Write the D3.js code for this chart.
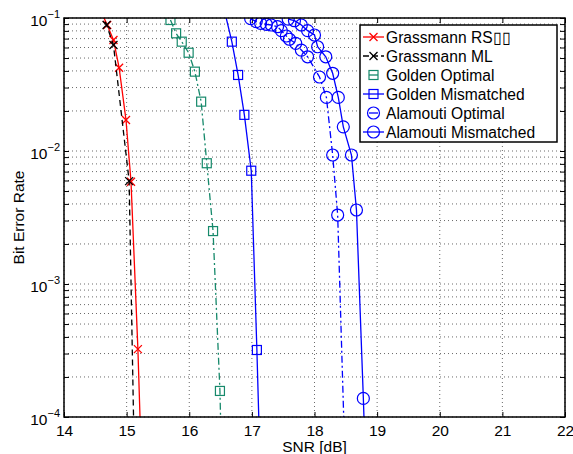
<!DOCTYPE html>
<html lang="en">
<head>
<meta charset="UTF-8">
<title>BER vs SNR</title>
<style>
  body { margin: 0; background: #fff; }
  text { font-family: "Liberation Sans", Arial, sans-serif; }
</style>
</head>
<body>
<svg width="573" height="454"></svg>
<script src="https://d3js.org/d3.v7.min.js"></script>
<script>
// data: [SNR dB, BER]
var grassRS = [[14.6, 0.11], [14.69, 0.0886], [14.79, 0.0684], [14.88, 0.0423], [14.99, 0.0171], [15.07, 0.00587], [15.18, 3.24e-4], [15.28, 1e-5]];
var grassML = [[14.6, 0.11], [14.68, 0.0886], [14.79, 0.0626], [15.04, 0.00594], [15.15, 1e-5]];
var goldenOpt = [[15.70, 0.0966], [15.79, 0.0767], [15.88, 0.0664], [15.99, 0.0548], [16.09, 0.0395], [16.19, 0.0235], [16.28, 0.00809], [16.38, 0.0025], [16.49, 1.57e-4], [16.55, 1e-5]];
var goldenMis = [[16.55, 0.12], [16.68, 0.0664], [16.78, 0.0373], [16.88, 0.0187], [16.99, 0.00711], [17.08, 3.19e-4], [17.17, 1e-5]];
var alamOpt = [[16.98, 0.099], [17.07, 0.094], [17.14, 0.0912], [17.23, 0.0897], [17.31, 0.0886], [17.41, 0.086], [17.47, 0.0803], [17.55, 0.0732], [17.60, 0.0692], [17.70, 0.0645], [17.79, 0.0574], [17.89, 0.0511], [18.08, 0.036], [18.19, 0.0253], [18.29, 0.00933], [18.37, 0.0033], [18.53, 1e-5]];
var alamMis = [[17.58, 0.098], [17.68, 0.0954], [17.79, 0.0886], [17.89, 0.0803], [18.00, 0.0745], [18.05, 0.0608], [18.18, 0.0511], [18.29, 0.0384], [18.38, 0.0253], [18.46, 0.0152], [18.59, 0.00933], [18.67, 0.0036], [18.78, 1.38e-4], [18.86, 1e-5]];

var xTicks = [14, 15, 16, 17, 18, 19, 20, 21, 22];
var yTicks = [1e-4, 1e-3, 1e-2, 1e-1];
var names = ["Grassmann RS\u25af\u25af", "Grassmann ML", "Golden Optimal", "Golden Mismatched", "Alamouti Optimal", "Alamouti Mismatched"];

var green = "#16896b";
var series = [
  {data: grassRS, color: "red", dash: null, marker: "x"},
  {data: grassML, color: "black", dash: "6,4", marker: "x"},
  {data: goldenOpt, color: green, dash: "7,3,2,3", marker: "square"},
  {data: goldenMis, color: "blue", dash: null, marker: "square"},
  {data: alamOpt, color: "blue", dash: "7,3,2,3", marker: "circle"},
  {data: alamMis, color: "blue", dash: null, marker: "circle"}
];

var svg = d3.select("svg"),
    margin = {top: 18, right: 8, bottom: 37, left: 64},
    width = +svg.attr("width") - margin.left - margin.right,
    height = +svg.attr("height") - margin.top - margin.bottom;

var x = d3.scaleLinear().domain([14, 22]).range([0, width]);
var y = d3.scaleLog().domain([1e-4, 1e-1]).range([height, 0]);

svg.append("defs").append("clipPath").attr("id", "clip")
  .append("rect").attr("width", width).attr("height", height);

var g = svg.append("g").attr("transform", "translate(" + margin.left + "," + margin.top + ")");

// minor + major y values
var yGrid = [];
[1e-4, 1e-3, 1e-2].forEach(function(d) {
  for (var k = 1; k < 10; k++) yGrid.push(d * k);
});
yGrid.push(1e-1);

// grid
g.append("g").selectAll("line").data(yGrid).enter().append("line")
  .attr("x1", 0).attr("x2", width)
  .attr("y1", function(d) { return y(d); }).attr("y2", function(d) { return y(d); })
  .attr("stroke", "#444").attr("stroke-width", 0.8).attr("stroke-dasharray", "1,3");
g.append("g").selectAll("line").data(xTicks).enter().append("line")
  .attr("y1", 0).attr("y2", height)
  .attr("x1", function(d) { return x(d); }).attr("x2", function(d) { return x(d); })
  .attr("stroke", "#444").attr("stroke-width", 0.8).attr("stroke-dasharray", "1,3");

// axes with inward ticks
var xAxisB = d3.axisBottom(x).tickValues(xTicks).tickSize(-5).tickPadding(8).tickFormat(d3.format("d"));
var xAxisT = d3.axisTop(x).tickValues(xTicks).tickSize(-5).tickFormat("");
var yAxisL = d3.axisLeft(y).tickValues(yGrid).tickSize(-5).tickFormat("");
var yAxisR = d3.axisRight(y).tickValues(yGrid).tickSize(-5).tickFormat("");

var gx = g.append("g").attr("transform", "translate(0," + height + ")").call(xAxisB);
g.append("g").call(xAxisT);
g.append("g").call(yAxisL);
g.append("g").attr("transform", "translate(" + width + ",0)").call(yAxisR);
g.selectAll(".domain").remove();
g.selectAll(".tick line").attr("stroke", "#000").attr("stroke-width", 1);
gx.selectAll("text").attr("font-size", 15.5).attr("fill", "#000");

// y tick labels 10^n
var yl = g.append("g").selectAll("text").data(yTicks).enter().append("text")
  .attr("x", -4).attr("y", function(d) { return y(d) + 8; })
  .attr("text-anchor", "end").attr("font-size", 15.5);
yl.append("tspan").text("10");
yl.append("tspan").attr("dy", -8).attr("font-size", 11)
  .text(function(d) { return "\u2212" + Math.round(-Math.log10(d)); });

// lines
var line = d3.line().x(function(d) { return x(d[0]); }).y(function(d) { return y(d[1]); });
var plot = g.append("g").attr("clip-path", "url(#clip)");

function marker(sel, type, color) {
  if (type === "x") {
    sel.append("path").attr("d", "M-4,-4L4,4M-4,4L4,-4")
      .attr("stroke", color).attr("stroke-width", 1.3).attr("fill", "none");
  } else if (type === "square") {
    sel.append("rect").attr("x", -4.5).attr("y", -4.5).attr("width", 9).attr("height", 9)
      .attr("stroke", color).attr("stroke-width", 1.2).attr("fill", "none");
  } else {
    sel.append("circle").attr("r", 6)
      .attr("stroke", color).attr("stroke-width", 1.2).attr("fill", "none");
  }
}

series.forEach(function(s) {
  plot.append("path").datum(s.data).attr("d", line)
    .attr("fill", "none").attr("stroke", s.color).attr("stroke-width", 1.3)
    .attr("stroke-dasharray", s.dash);
  var pts = plot.selectAll(null).data(s.data).enter().append("g")
    .attr("transform", function(d) { return "translate(" + x(d[0]) + "," + y(d[1]) + ")"; });
  marker(pts, s.marker, s.color);
});

// box
g.append("rect").attr("width", width).attr("height", height)
  .attr("fill", "none").attr("stroke", "#000").attr("stroke-width", 1.5);

// axis titles
svg.append("text").attr("x", margin.left + width / 2).attr("y", 452)
  .attr("text-anchor", "middle").attr("font-size", 15.5).text("SNR [dB]");
svg.append("text").attr("transform", "translate(24," + (margin.top + height / 2) + ") rotate(-90)")
  .attr("text-anchor", "middle").attr("font-size", 15.5).text("Bit Error Rate");

// legend
var lg = svg.append("g").attr("transform", "translate(360,25)");
lg.append("rect").attr("width", 197).attr("height", 117)
  .attr("fill", "#fff").attr("stroke", "#000").attr("stroke-width", 1.5);
var items = lg.selectAll(".item").data(series).enter().append("g")
  .attr("transform", function(d, i) { return "translate(0," + (12 + i * 19) + ")"; });
items.append("line")
  .attr("x1", function(d) { return d.dash && d.marker !== "x" ? 9 : 3; })
  .attr("x2", function(d) { return d.dash && d.marker !== "x" ? 18 : 24; })
  .attr("stroke", function(d) { return d.color; }).attr("stroke-width", 1.3)
  .attr("stroke-dasharray", function(d) { return d.marker === "x" && d.dash ? "6,3" : null; });
items.each(function(d) {
  var m = d3.select(this).append("g").attr("transform", "translate(13.5,0)");
  marker(m, d.marker, d.color);
});
items.append("text").attr("x", 26).attr("y", 5.5).attr("font-size", 15.6)
  .text(function(d, i) { return names[i]; });
</script>
</body>
</html>
